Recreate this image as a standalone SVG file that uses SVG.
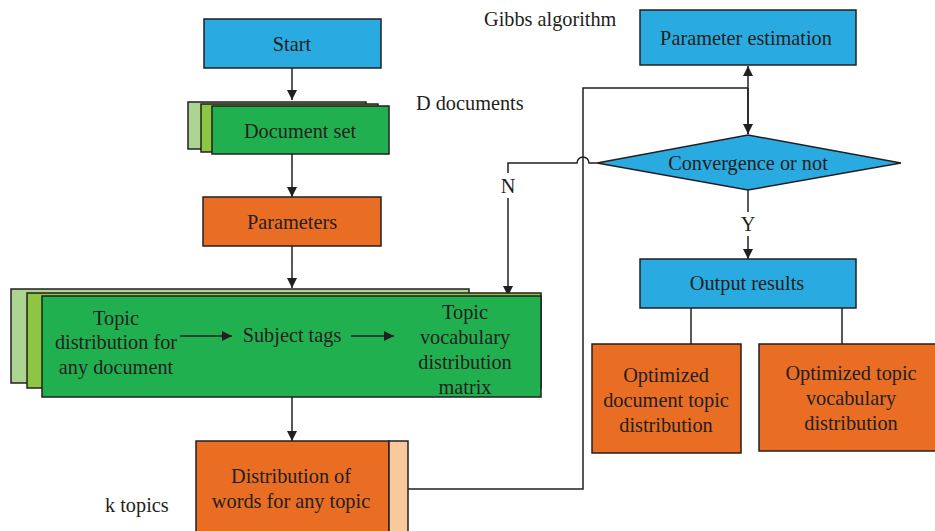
<svg xmlns="http://www.w3.org/2000/svg" width="935" height="531" viewBox="0 0 935 531">
  <defs>
    <marker id="arrow" viewBox="0 0 10 10" refX="10" refY="5" markerWidth="10" markerHeight="10" markerUnits="userSpaceOnUse" orient="auto">
      <path d="M0,0 L10,5 L0,10 Z" fill="#231f20"/>
    </marker>
  </defs>
  <style>
    text { font-family: 'Liberation Serif', 'Times New Roman', serif; font-size: 20.3px; fill: #231f20; text-anchor: middle; }
    text.lbl { text-anchor: start; }
    .box { stroke: #231f20; stroke-width: 1.5; }
    .blue { fill: #29abe2; }
    .green { fill: #21b04f; }
    .green2 { fill: #8dc640; }
    .green3 { fill: #acd591; }
    .orange { fill: #e96e24; }
    .peach { fill: #f9c89b; }
    .wire { fill: none; stroke: #231f20; stroke-width: 1.5; }
  </style>

  <rect width="935" height="531" fill="#ffffff"/>

  <!-- free-standing annotations -->
  <text class="lbl" x="484" y="26">Gibbs algorithm</text>
  <text class="lbl" x="416" y="110">D documents</text>
  <text class="lbl" x="105" y="512">k topics</text>

  <!-- connectors -->
  <g id="connectors">
    <path class="wire" d="M292,68 V100" marker-end="url(#arrow)"/>
    <path class="wire" d="M292,154 V197" marker-end="url(#arrow)"/>
    <path class="wire" d="M292,246 V288" marker-end="url(#arrow)"/>
    <path class="wire" d="M292,397 V441" marker-end="url(#arrow)"/>
    <!-- loop back from topic words to estimation -->
    <path class="wire" d="M408,489 H583 V88 H748"/>
    <!-- estimation <-> convergence -->
    <path class="wire" d="M748,134 V66" marker-end="url(#arrow)"/>
    <path class="wire" d="M748,88 V134" marker-end="url(#arrow)"/>
    <!-- N branch with a hop over the loop line -->
    <path class="wire" d="M597,163 H589 A6,6 0 0 0 577,163 H508 V173"/>
    <path class="wire" d="M508,198 V296" marker-end="url(#arrow)"/>
    <!-- Y branch -->
    <path class="wire" d="M748,190 V212"/>
    <path class="wire" d="M748,236 V259" marker-end="url(#arrow)"/>
    <!-- results split -->
    <path class="wire" d="M691,308 V344"/>
    <path class="wire" d="M842,308 V344"/>
  </g>
  <text x="508" y="193">N</text>
  <text x="748" y="231">Y</text>

  <g id="start">
    <rect class="box blue" x="204" y="19" width="177" height="49"/>
    <text x="292" y="51">Start</text>
  </g>

  <g id="document-set">
    <rect class="box green3" x="188" y="102" width="178" height="47"/>
    <rect class="box green2" x="201" y="104" width="177" height="48"/>
    <rect class="box green" x="212" y="106" width="177" height="48"/>
    <text x="300" y="138">Document set</text>
  </g>

  <g id="parameters">
    <rect class="box orange" x="203" y="197" width="178" height="49"/>
    <text x="292" y="229">Parameters</text>
  </g>

  <g id="topic-model">
    <rect class="box green3" x="11" y="289" width="458" height="94"/>
    <rect class="box green2" x="27" y="293" width="514" height="95"/>
    <rect class="box green" x="42" y="296" width="499" height="101"/>
    <text x="116" y="325">Topic</text>
    <text x="116" y="349">distribution for</text>
    <text x="116" y="374">any document</text>
    <path class="wire" d="M180,336 H232" marker-end="url(#arrow)"/>
    <text x="292" y="342">Subject tags</text>
    <path class="wire" d="M351,336 H394" marker-end="url(#arrow)"/>
    <text x="465" y="319">Topic</text>
    <text x="465" y="344">vocabulary</text>
    <text x="465" y="369">distribution</text>
    <text x="465" y="394">matrix</text>
  </g>

  <g id="word-distribution">
    <rect class="box orange" x="196" y="441" width="193" height="100"/>
    <rect class="box peach" x="389" y="441" width="19" height="100"/>
    <text x="291" y="483">Distribution of</text>
    <text x="291" y="508">words for any topic</text>
  </g>

  <g id="parameter-estimation">
    <rect class="box blue" x="640" y="10" width="216" height="55"/>
    <text x="746" y="45">Parameter estimation</text>
  </g>

  <g id="convergence">
    <polygon class="box blue" points="597,163 748,135 901,163 748,190"/>
    <text x="748" y="170">Convergence or not</text>
  </g>

  <g id="output-results">
    <rect class="box blue" x="640" y="259" width="216" height="49"/>
    <text x="747" y="290">Output results</text>
  </g>

  <g id="optimized-document">
    <rect class="box orange" x="592" y="344" width="149" height="109"/>
    <text x="666" y="382">Optimized</text>
    <text x="666" y="407">document topic</text>
    <text x="666" y="432">distribution</text>
  </g>

  <g id="optimized-vocabulary">
    <rect class="box orange" x="759" y="344" width="184" height="107"/>
    <text x="851" y="380">Optimized topic</text>
    <text x="851" y="405">vocabulary</text>
    <text x="851" y="430">distribution</text>
  </g>
</svg>
